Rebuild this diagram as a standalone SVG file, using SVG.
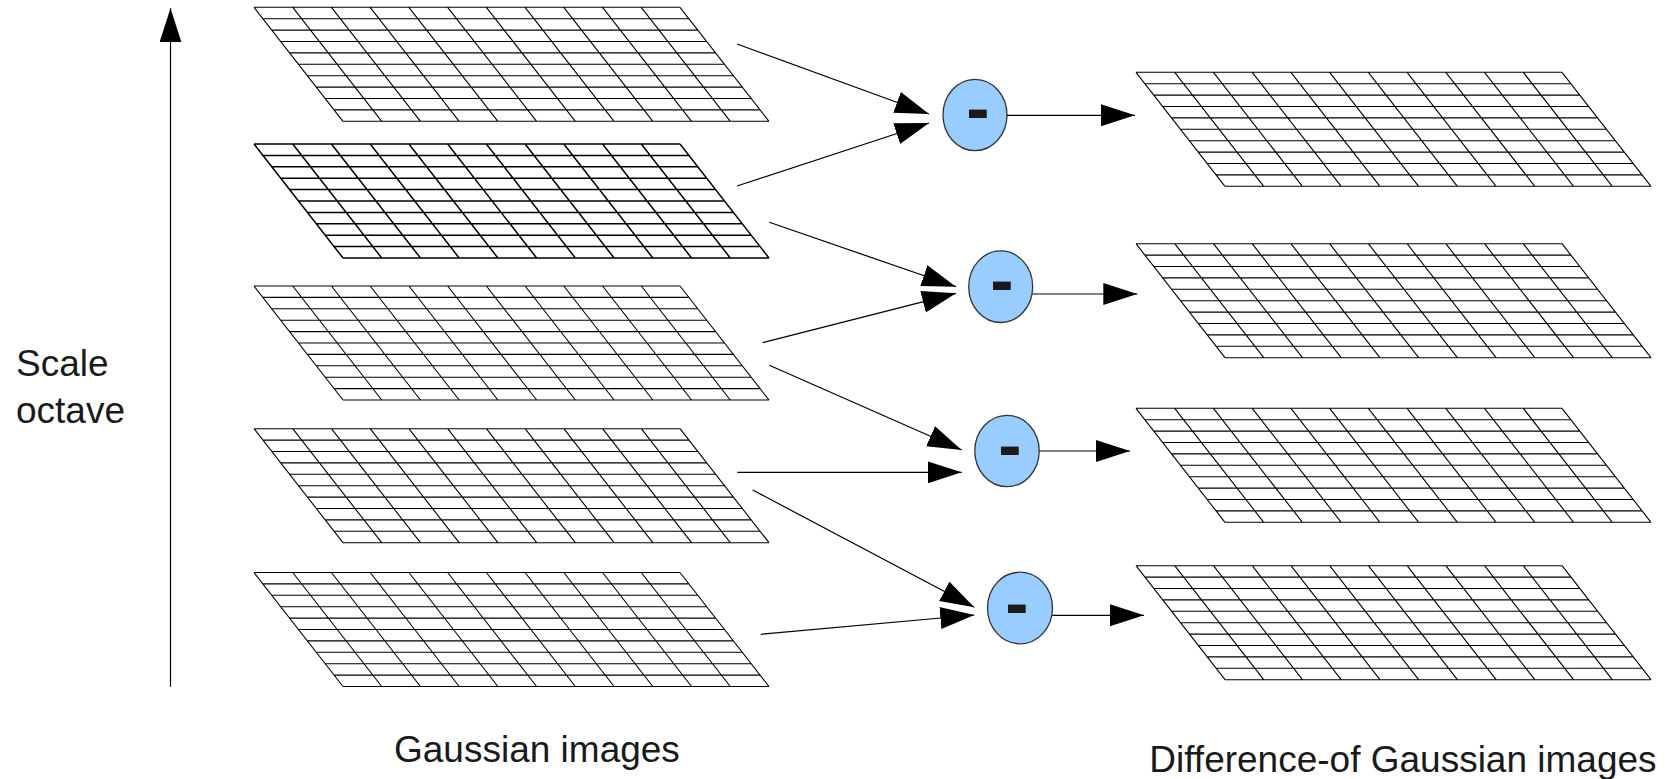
<svg xmlns="http://www.w3.org/2000/svg" xmlns:xlink="http://www.w3.org/1999/xlink" width="1672" height="779" viewBox="0 0 1672 779">
<style>
.grid{fill:none;stroke:#000;stroke-width:1.1}
.grid.dark{stroke-width:1.5}
.op{fill:#99ccff;stroke:#333;stroke-width:1.3}
.minus{font-family:"Liberation Sans",Arial,sans-serif;font-weight:bold;font-size:70px;fill:#1a1a1a;text-anchor:middle}
.conn{fill:none;stroke:#000;stroke-width:1.2;marker-end:url(#arrow)}
.label{font-family:"Liberation Sans",Arial,sans-serif;font-size:37px;fill:#1a1a1a}
</style>
<defs>
<marker id="arrow" markerUnits="userSpaceOnUse" markerWidth="35" markerHeight="23" refX="34" refY="11" orient="auto">
<path d="M0,0 L34,11 L0,22 z" fill="#000"/>
</marker>
<path id="grid" d="M0,0H426M8.9,11.4H434.9M17.8,22.8H443.8M26.7,34.2H452.7M35.6,45.6H461.6M44.5,57H470.5M53.4,68.4H479.4M62.3,79.8H488.3M71.2,91.2H497.2M80.1,102.6H506.1M89,114H515M0,0l89,114M38.73,0l89,114M77.45,0l89,114M116.18,0l89,114M154.91,0l89,114M193.64,0l89,114M232.36,0l89,114M271.09,0l89,114M309.82,0l89,114M348.55,0l89,114M387.27,0l89,114M426,0l89,114"/>
</defs>
<rect width="1672" height="779" fill="#fff"/>

<g id="gaussian-1" class="grid" transform="translate(254,7.3)"><use xlink:href="#grid"/></g>
<g id="gaussian-2" class="grid dark" transform="translate(254,144)"><use xlink:href="#grid"/></g>
<g id="gaussian-3" class="grid" transform="translate(254,286)"><use xlink:href="#grid"/></g>
<g id="gaussian-4" class="grid" transform="translate(254,428.7)"><use xlink:href="#grid"/></g>
<g id="gaussian-5" class="grid" transform="translate(254,572.5)"><use xlink:href="#grid"/></g>

<g id="dog-1" class="grid" transform="translate(1136,72.3)"><use xlink:href="#grid"/></g>
<g id="dog-2" class="grid" transform="translate(1136,243.7)"><use xlink:href="#grid"/></g>
<g id="dog-3" class="grid" transform="translate(1136,408.3)"><use xlink:href="#grid"/></g>
<g id="dog-4" class="grid" transform="translate(1136,565.7)"><use xlink:href="#grid"/></g>

<g id="sub-1"><ellipse class="op" cx="975" cy="115" rx="32" ry="35.7"/><text class="minus" x="978" y="131.5">-</text></g>
<g id="sub-2"><ellipse class="op" cx="1000.7" cy="286.7" rx="32" ry="35.8"/><text class="minus" x="1002" y="304.3">-</text></g>
<g id="sub-3"><ellipse class="op" cx="1007" cy="451" rx="32.2" ry="35.7"/><text class="minus" x="1010" y="469.3">-</text></g>
<g id="sub-4"><ellipse class="op" cx="1020" cy="608" rx="32.5" ry="35.8"/><text class="minus" x="1017" y="626.5">-</text></g>

<g id="connectors">
<line class="conn" x1="737" y1="44" x2="929" y2="114"/>
<line class="conn" x1="737" y1="186" x2="929" y2="123"/>
<line class="conn" x1="769.3" y1="222.3" x2="956" y2="286.7"/>
<line class="conn" x1="762.7" y1="342.7" x2="956" y2="293.3"/>
<line class="conn" x1="769.3" y1="365.3" x2="961.7" y2="450"/>
<line class="conn" x1="737.3" y1="472.3" x2="961.7" y2="472.3"/>
<line class="conn" x1="752.7" y1="490" x2="974.3" y2="607.3"/>
<line class="conn" x1="760.7" y1="634.3" x2="974.3" y2="615"/>
<line class="conn" x1="1007" y1="115.3" x2="1135" y2="115.3"/>
<line class="conn" x1="1032.7" y1="294" x2="1137.3" y2="294"/>
<line class="conn" x1="1039.3" y1="451" x2="1130" y2="451"/>
<line class="conn" x1="1052.3" y1="615.3" x2="1144" y2="615.3"/>
<line class="conn" x1="170.5" y1="686.7" x2="170.5" y2="8.3"/>
</g>

<g id="labels">
<text class="label" x="16" y="375.7">Scale</text>
<text class="label" x="16" y="422.7">octave</text>
<text class="label" x="394" y="761.7">Gaussian images</text>
<text class="label" x="1149.3" y="771.7">Difference-of Gaussian images</text>
</g>
</svg>
